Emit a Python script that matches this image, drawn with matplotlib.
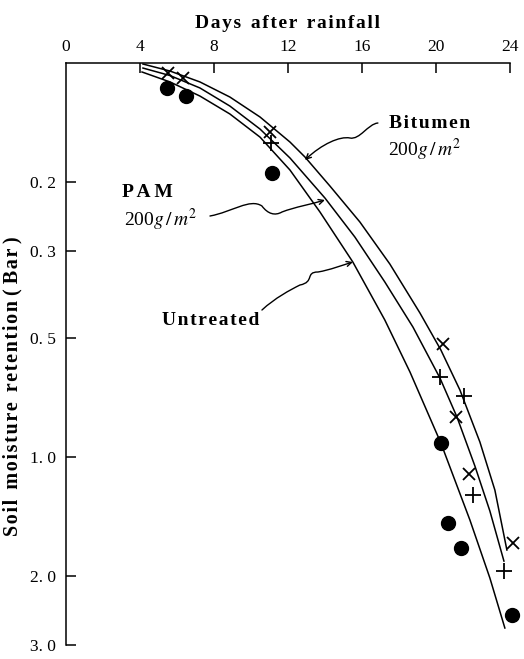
import matplotlib
matplotlib.use("Agg")
import numpy as np
from matplotlib import pyplot as plt
from matplotlib.patches import FancyArrowPatch
from matplotlib.path import Path
from matplotlib.ticker import FixedLocator, NullLocator

# measured points
untreated_day = [5.46, 6.49, 11.14, 20.27, 20.65, 21.35, 24.1]
untreated_bar = [0.116, 0.121, 0.190, 0.921, 1.471, 1.702, 2.52]
bitumen_day = [5.51, 6.32, 11.03, 20.38, 21.08, 21.78, 24.16]
bitumen_bar = [0.106, 0.109, 0.150, 0.517, 0.791, 1.104, 1.653]
pam_day = [11.08, 20.22, 21.51, 22.0, 23.68]
pam_bar = [0.160, 0.627, 0.700, 1.248, 1.947]

# fitted curves
bit_curve_day = [4.16, 5.62, 7.24, 8.86, 10.49, 12.11, 12.92, 14.27, 15.89, 17.51, 19.14, 20.27, 21.30, 22.38, 23.19, 23.84]
bit_curve_bar = [0.1006, 0.1048, 0.1117, 0.1220, 0.1371, 0.1587, 0.1732, 0.2052, 0.2532, 0.3237, 0.4311, 0.535, 0.676, 0.916, 1.213, 1.722]
pam_curve_day = [4.16, 5.62, 7.24, 8.86, 10.49, 12.11, 14.0, 15.62, 17.24, 18.76, 20.22, 21.14, 22.11, 22.92, 23.68]
pam_curve_bar = [0.1030, 0.1076, 0.1157, 0.1286, 0.1471, 0.1742, 0.2201, 0.2765, 0.3596, 0.4679, 0.6302, 0.7914, 1.054, 1.371, 1.837]
unt_curve_day = [4.11, 5.62, 7.24, 8.86, 10.49, 12.11, 13.73, 15.51, 17.24, 18.60, 20.27, 21.84, 22.92, 23.73]
unt_curve_bar = [0.1054, 0.1117, 0.1213, 0.1347, 0.1542, 0.1869, 0.2388, 0.320, 0.4491, 0.6086, 0.9215, 1.445, 2.028, 2.716]

x_ticks = [0, 4, 8, 12, 16, 20, 24]
y_ticks = [0.2, 0.3, 0.5, 1.0, 2.0, 3.0]
y_labels = ["0. 2", "0. 3", "0. 5", "1. 0", "2. 0", "3. 0"]

plt.rcParams['font.family'] = ['Liberation Serif', 'DejaVu Serif']
plt.rcParams['mathtext.fontset'] = 'stix'

HAIR = '\u200a'


def spaced(s):
    return HAIR.join(s)


fig = plt.figure(figsize=(5.24, 6.59), dpi=100)
ax = fig.add_axes([0.126, 0.0212, 0.847, 0.8832])

for d, b in [(bit_curve_day, bit_curve_bar), (pam_curve_day, pam_curve_bar), (unt_curve_day, unt_curve_bar)]:
    ax.plot(d, b, color='black', lw=1.1, solid_joinstyle='round')

ax.plot(untreated_day, untreated_bar, 'o', color='black', ms=10, clip_on=False)
ax.plot(bitumen_day, bitumen_bar, 'x', color='black', ms=9, mew=1.3, clip_on=False)
ax.plot(pam_day, pam_bar, '+', color='black', ms=11, mew=1.3, clip_on=False)

ax.set_yscale('log')
ax.set_xlim(0, 24)
ax.set_ylim(3.0, 0.1)
ax.yaxis.set_major_locator(FixedLocator(y_ticks))
ax.yaxis.set_minor_locator(NullLocator())
ax.set_yticklabels(y_labels)
ax.xaxis.tick_top()
ax.xaxis.set_label_position('top')
ax.set_xticks(x_ticks)
ax.set_xticklabels([str(t) for t in x_ticks])
ax.tick_params(axis='x', direction='in', length=7, width=1.1, labelsize=12.5, pad=6)
ax.tick_params(axis='y', direction='in', length=7, width=1.1, labelsize=12.5, pad=7)
ax.xaxis.get_major_ticks()[0].tick2line.set_visible(False)
for s in ['right', 'bottom']:
    ax.spines[s].set_visible(False)
for s in ['top', 'left']:
    ax.spines[s].set_linewidth(1.1)

ax.set_xlabel(spaced("Days") + "  " + spaced("after") + "  " + spaced("rainfall"),
              fontsize=14, fontweight='bold', labelpad=8)
ax.set_ylabel(spaced("Soil") + "  " + spaced("moisture") + "  " + spaced("retention") + " ( " + spaced("Bar") + " )",
              fontsize=14.5, fontweight='bold')
ax.yaxis.set_label_coords(-0.098, 0.445)

txt = dict(fontsize=14, fontweight='bold', ha='left', va='center')
unit = r"200$\mathit{g}\,/\,\mathit{m}^{2}$"
ax.text(17.46, 0.1428, spaced("Bitumen"), **txt)
ax.text(17.4, 0.1663, unit, fontsize=14, ha='left', va='center')
ax.text(3.05, 0.2126, "P A M", **txt)
ax.text(3.15, 0.2504, unit, fontsize=14, ha='left', va='center')
ax.text(5.19, 0.449, spaced("Untreated"), **txt)


# wavy leader lines, drawn in pixel units of the original page
def px(x, y):
    return ((x - 66) / 444.0, 1 - (y - 63) / 582.0)


C4 = Path.CURVE4
leaders = [
    [(378, 123), (368, 124), (360, 140), (350, 138),
     (340, 136), (322, 144), (305, 160)],
    [(210, 216), (232, 212), (250, 198), (262, 206),
     (268, 214), (275, 216), (282, 212),
     (295, 207), (312, 204), (325, 200)],
    [(262, 310), (275, 298), (290, 290), (300, 285),
     (315, 282), (305, 272), (318, 272),
     (330, 270), (343, 265), (353, 262)],
]
for pts in leaders:
    codes = [Path.MOVETO] + [C4] * (len(pts) - 1)
    path = Path([px(*p) for p in pts], codes)
    ax.add_patch(FancyArrowPatch(path=path, arrowstyle='->', mutation_scale=9,
                                 lw=1.0, color='black', transform=ax.transAxes))

fig.savefig("out.png", dpi=100)
